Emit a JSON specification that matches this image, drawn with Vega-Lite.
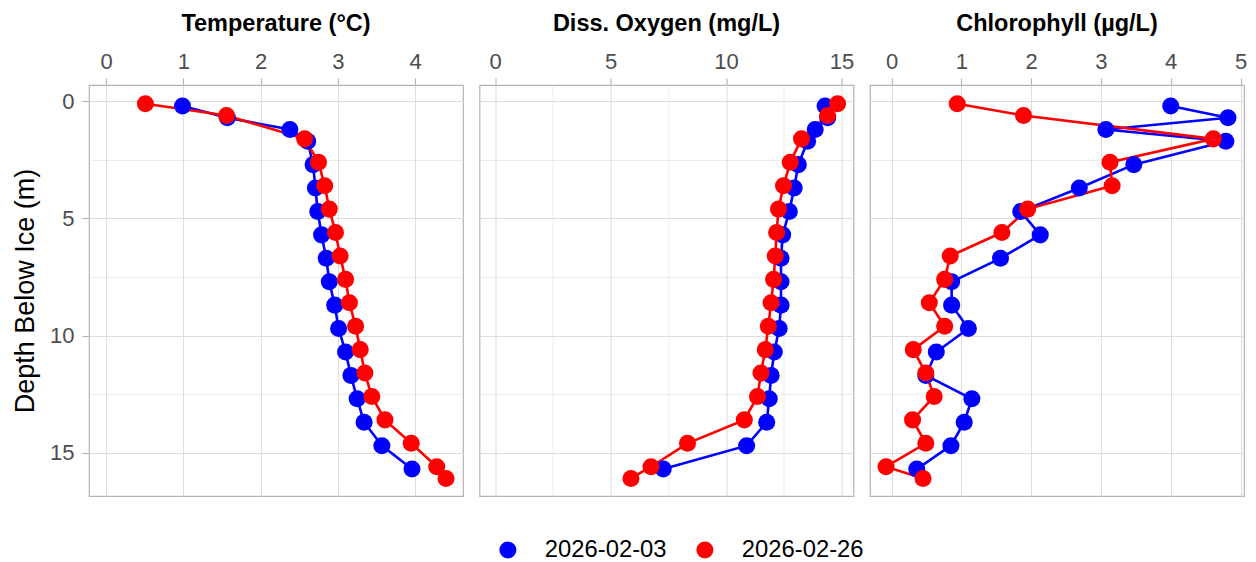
{
  "$schema": "https://vega.github.io/schema/vega-lite/v6.json",
  "background": "white",
  "padding": {"left": 10, "top": 10, "right": 5, "bottom": 5},
  "autosize": {"type": "pad"},
  "bounds": "flush",
  "data": {"values": [
    {"date": "2026-02-03", "depth": 0.2, "temp": 0.99, "do": 14.29, "chl": 4.00},
    {"date": "2026-02-03", "depth": 0.7, "temp": 1.57, "do": 14.40, "chl": 4.82},
    {"date": "2026-02-03", "depth": 1.2, "temp": 2.38, "do": 13.86, "chl": 3.07},
    {"date": "2026-02-03", "depth": 1.7, "temp": 2.61, "do": 13.53, "chl": 4.79},
    {"date": "2026-02-03", "depth": 2.7, "temp": 2.68, "do": 13.13, "chl": 3.47},
    {"date": "2026-02-03", "depth": 3.7, "temp": 2.71, "do": 12.95, "chl": 2.69},
    {"date": "2026-02-03", "depth": 4.7, "temp": 2.74, "do": 12.74, "chl": 1.85},
    {"date": "2026-02-03", "depth": 5.7, "temp": 2.79, "do": 12.45, "chl": 2.13},
    {"date": "2026-02-03", "depth": 6.7, "temp": 2.85, "do": 12.38, "chl": 1.56},
    {"date": "2026-02-03", "depth": 7.7, "temp": 2.89, "do": 12.38, "chl": 0.86},
    {"date": "2026-02-03", "depth": 8.7, "temp": 2.96, "do": 12.38, "chl": 0.86},
    {"date": "2026-02-03", "depth": 9.7, "temp": 3.01, "do": 12.30, "chl": 1.10},
    {"date": "2026-02-03", "depth": 10.7, "temp": 3.10, "do": 12.09, "chl": 0.64},
    {"date": "2026-02-03", "depth": 11.7, "temp": 3.17, "do": 11.95, "chl": 0.49},
    {"date": "2026-02-03", "depth": 12.7, "temp": 3.25, "do": 11.87, "chl": 1.15},
    {"date": "2026-02-03", "depth": 13.7, "temp": 3.34, "do": 11.76, "chl": 1.04},
    {"date": "2026-02-03", "depth": 14.7, "temp": 3.57, "do": 10.89, "chl": 0.85},
    {"date": "2026-02-03", "depth": 15.7, "temp": 3.96, "do": 7.28, "chl": 0.36},
    {"date": "2026-02-26", "depth": 0.1, "temp": 0.51, "do": 14.83, "chl": 0.94},
    {"date": "2026-02-26", "depth": 0.6, "temp": 1.56, "do": 14.40, "chl": 1.89},
    {"date": "2026-02-26", "depth": 1.6, "temp": 2.57, "do": 13.27, "chl": 4.61},
    {"date": "2026-02-26", "depth": 2.6, "temp": 2.75, "do": 12.78, "chl": 3.13},
    {"date": "2026-02-26", "depth": 3.6, "temp": 2.83, "do": 12.49, "chl": 3.16},
    {"date": "2026-02-26", "depth": 4.6, "temp": 2.89, "do": 12.27, "chl": 1.95},
    {"date": "2026-02-26", "depth": 5.6, "temp": 2.97, "do": 12.19, "chl": 1.58},
    {"date": "2026-02-26", "depth": 6.6, "temp": 3.03, "do": 12.13, "chl": 0.84},
    {"date": "2026-02-26", "depth": 7.6, "temp": 3.10, "do": 12.06, "chl": 0.76},
    {"date": "2026-02-26", "depth": 8.6, "temp": 3.15, "do": 11.95, "chl": 0.54},
    {"date": "2026-02-26", "depth": 9.6, "temp": 3.23, "do": 11.83, "chl": 0.76},
    {"date": "2026-02-26", "depth": 10.6, "temp": 3.29, "do": 11.70, "chl": 0.31},
    {"date": "2026-02-26", "depth": 11.6, "temp": 3.35, "do": 11.51, "chl": 0.49},
    {"date": "2026-02-26", "depth": 12.6, "temp": 3.44, "do": 11.36, "chl": 0.61},
    {"date": "2026-02-26", "depth": 13.6, "temp": 3.61, "do": 10.79, "chl": 0.30},
    {"date": "2026-02-26", "depth": 14.6, "temp": 3.95, "do": 8.33, "chl": 0.49},
    {"date": "2026-02-26", "depth": 15.6, "temp": 4.28, "do": 6.75, "chl": -0.08},
    {"date": "2026-02-26", "depth": 16.1, "temp": 4.40, "do": 5.88, "chl": 0.45}
  ]},
  "config": {
    "font": "Liberation Sans",
    "view": {"stroke": "#b3b3b3", "strokeWidth": 1.2},
    "axis": {
      "labelFont": "Liberation Sans",
      "labelFontSize": 22,
      "labelColor": "#4d4d4d",
      "tickColor": "#b3b3b3",
      "tickSize": 7,
      "tickWidth": 1.1,
      "labelPadding": 5,
      "domain": false,
      "gridColor": "#dedede",
      "labelFlush": false,
      "labelOverlap": false
    },
    "title": {"font": "Liberation Sans", "fontSize": 23.5, "fontWeight": "bold", "color": "black", "anchor": "middle", "offset": 15},
    "legend": {"labelFont": "Liberation Sans", "labelFontSize": 23.8, "labelColor": "black", "title": null, "orient": "none", "direction": "horizontal", "legendX": 407, "legendY": 453, "symbolType": "circle", "symbolSize": 290, "symbolStrokeWidth": 0, "symbolOpacity": 1, "labelOffset": 25, "columnPadding": 26, "padding": 0, "labelLimit": 300}
  },
  "spacing": 16.5,
  "resolve": {"scale": {"x": "independent"}},
  "hconcat": [
    {
      "width": 374, "height": 411,
      "title": "Temperature (°C)",
      "encoding": {
        "x": {"field": "temp", "type": "quantitative", "scale": {"domain": [-0.22, 4.62], "nice": false, "zero": false},
          "axis": {"orient": "top", "title": null, "values": [0,0.5,1,1.5,2,2.5,3,3.5,4,4.5], "format": "d",
            "labelExpr": "datum.value % 1 === 0 ? datum.label : ''",
            "tickOpacity": {"condition": {"test": "datum.value % 1 !== 0", "value": 0}, "value": 1},
            "gridWidth": {"condition": {"test": "datum.value % 1 !== 0", "value": 0.6}, "value": 1.1}}},
        "y": {"field": "depth", "type": "quantitative", "scale": {"domain": [-0.7, 16.85], "nice": false, "zero": false, "reverse": true},
          "axis": {"title": "Depth Below Ice (m)", "values": [0,2.5,5,7.5,10,12.5,15], "format": "d",
            "labelExpr": "datum.value % 5 === 0 ? datum.label : ''",
            "tickOpacity": {"condition": {"test": "datum.value % 5 !== 0", "value": 0}, "value": 1},
            "gridWidth": {"condition": {"test": "datum.value % 5 !== 0", "value": 0.6}, "value": 1.1},
            "titleFontSize": 27, "titleFontWeight": "normal", "titleColor": "black", "titlePadding": 10, "labelPadding": 8}},
        "color": {"field": "date", "type": "nominal", "scale": {"domain": ["2026-02-03", "2026-02-26"], "range": ["#0000ff", "#ff0000"]}}
      },
      "layer": [
        {"mark": {"type": "line", "strokeWidth": 2.6},
         "encoding": {"order": {"field": "depth", "type": "quantitative"}}},
        {"mark": {"type": "point", "filled": true, "size": 290, "opacity": 1}}
      ]
    },
    {
      "width": 374, "height": 411,
      "title": "Diss. Oxygen (mg/L)",
      "encoding": {
        "x": {"field": "do", "type": "quantitative", "scale": {"domain": [-0.68, 15.52], "nice": false, "zero": false},
          "axis": {"orient": "top", "title": null, "values": [0,2.5,5,7.5,10,12.5,15], "format": "d",
            "labelExpr": "datum.value % 5 === 0 ? datum.label : ''",
            "tickOpacity": {"condition": {"test": "datum.value % 5 !== 0", "value": 0}, "value": 1},
            "gridWidth": {"condition": {"test": "datum.value % 5 !== 0", "value": 0.6}, "value": 1.1}}},
        "y": {"field": "depth", "type": "quantitative", "scale": {"domain": [-0.7, 16.85], "nice": false, "zero": false, "reverse": true},
          "axis": {"title": null, "values": [0,2.5,5,7.5,10,12.5,15], "labels": false, "ticks": false,
            "gridWidth": {"condition": {"test": "datum.value % 5 !== 0", "value": 0.6}, "value": 1.1}}},
        "color": {"field": "date", "type": "nominal", "scale": {"domain": ["2026-02-03", "2026-02-26"], "range": ["#0000ff", "#ff0000"]}}
      },
      "layer": [
        {"mark": {"type": "line", "strokeWidth": 2.6},
         "encoding": {"order": {"field": "depth", "type": "quantitative"}}},
        {"mark": {"type": "point", "filled": true, "size": 290, "opacity": 1}}
      ]
    },
    {
      "width": 374, "height": 411,
      "title": "Chlorophyll (µg/L)",
      "encoding": {
        "x": {"field": "chl", "type": "quantitative", "scale": {"domain": [-0.31, 5.05], "nice": false, "zero": false},
          "axis": {"orient": "top", "title": null, "values": [0,0.5,1,1.5,2,2.5,3,3.5,4,4.5,5], "format": "d",
            "labelExpr": "datum.value % 1 === 0 ? datum.label : ''",
            "tickOpacity": {"condition": {"test": "datum.value % 1 !== 0", "value": 0}, "value": 1},
            "gridWidth": {"condition": {"test": "datum.value % 1 !== 0", "value": 0.6}, "value": 1.1}}},
        "y": {"field": "depth", "type": "quantitative", "scale": {"domain": [-0.7, 16.85], "nice": false, "zero": false, "reverse": true},
          "axis": {"title": null, "values": [0,2.5,5,7.5,10,12.5,15], "labels": false, "ticks": false,
            "gridWidth": {"condition": {"test": "datum.value % 5 !== 0", "value": 0.6}, "value": 1.1}}},
        "color": {"field": "date", "type": "nominal", "scale": {"domain": ["2026-02-03", "2026-02-26"], "range": ["#0000ff", "#ff0000"]}}
      },
      "layer": [
        {"mark": {"type": "line", "strokeWidth": 2.6},
         "encoding": {"order": {"field": "depth", "type": "quantitative"}}},
        {"mark": {"type": "point", "filled": true, "size": 290, "opacity": 1}}
      ]
    }
  ]
}
